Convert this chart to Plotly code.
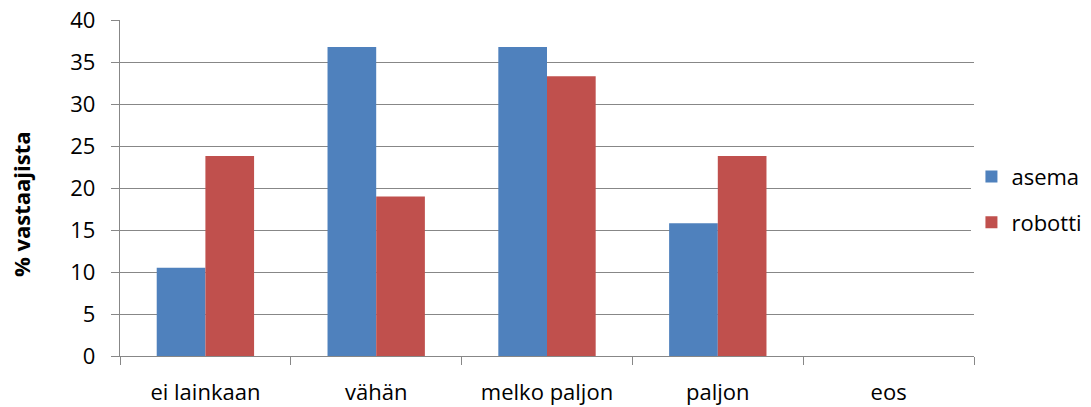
import plotly.graph_objects as go

categories = ["ei lainkaan", "vähän", "melko paljon", "paljon", "eos"]
asema = [10.5, 36.8, 36.8, 15.8, 0]
robotti = [23.8, 19.0, 33.3, 23.8, 0]
y_ticks = [0, 5, 10, 15, 20, 25, 30, 35, 40]

FONT = "Open Sans"
FS = 22
GRID = "#878787"

fig = go.Figure()
fig.add_trace(go.Bar(name="asema", x=categories, y=asema,
                     marker=dict(color="#4F81BD", line=dict(width=0)),
                     legendgroup="a"))
fig.add_trace(go.Bar(name="robotti", x=categories, y=robotti,
                     marker=dict(color="#C0504D", line=dict(width=0)),
                     legendgroup="r"))

fig.update_layout(
    width=1091, height=407,
    margin=dict(l=120, r=117, t=20, b=51, autoexpand=False),
    paper_bgcolor="white", plot_bgcolor="white",
    barmode="group", bargap=0.43, bargroupgap=0,
    font=dict(family=FONT, size=FS, color="#000000"),
    legend=dict(x=0.997, y=0.465, xanchor="left", yanchor="middle",
                font=dict(family=FONT, size=FS), tracegroupgap=14,
                itemwidth=30),
    showlegend=True,
)
fig.add_annotation(
    text="<b>% vastaajista</b>", textangle=-90,
    xref="paper", yref="paper", x=-0.116, y=0.452,
    xanchor="center", yanchor="middle", showarrow=False,
    font=dict(family=FONT, size=FS),
)
fig.update_xaxes(
    showline=True, linecolor=GRID, linewidth=1.3,
    ticks="outside", ticklen=8, tickcolor=GRID, tickwidth=1.3,
    tickson="boundaries", showgrid=False,
    ticklabelstandoff=16,
    tickfont=dict(family=FONT, size=FS),
)
fig.update_yaxes(
    range=[0, 40], tickvals=y_ticks,
    showline=True, linecolor=GRID, linewidth=1.3,
    ticks="outside", ticklen=8, tickcolor=GRID, tickwidth=1.3,
    showgrid=True, gridcolor=GRID, gridwidth=1.3,
    zeroline=False, ticklabelstandoff=11,
    tickfont=dict(family=FONT, size=FS),
)

fig.write_html("out.html")
